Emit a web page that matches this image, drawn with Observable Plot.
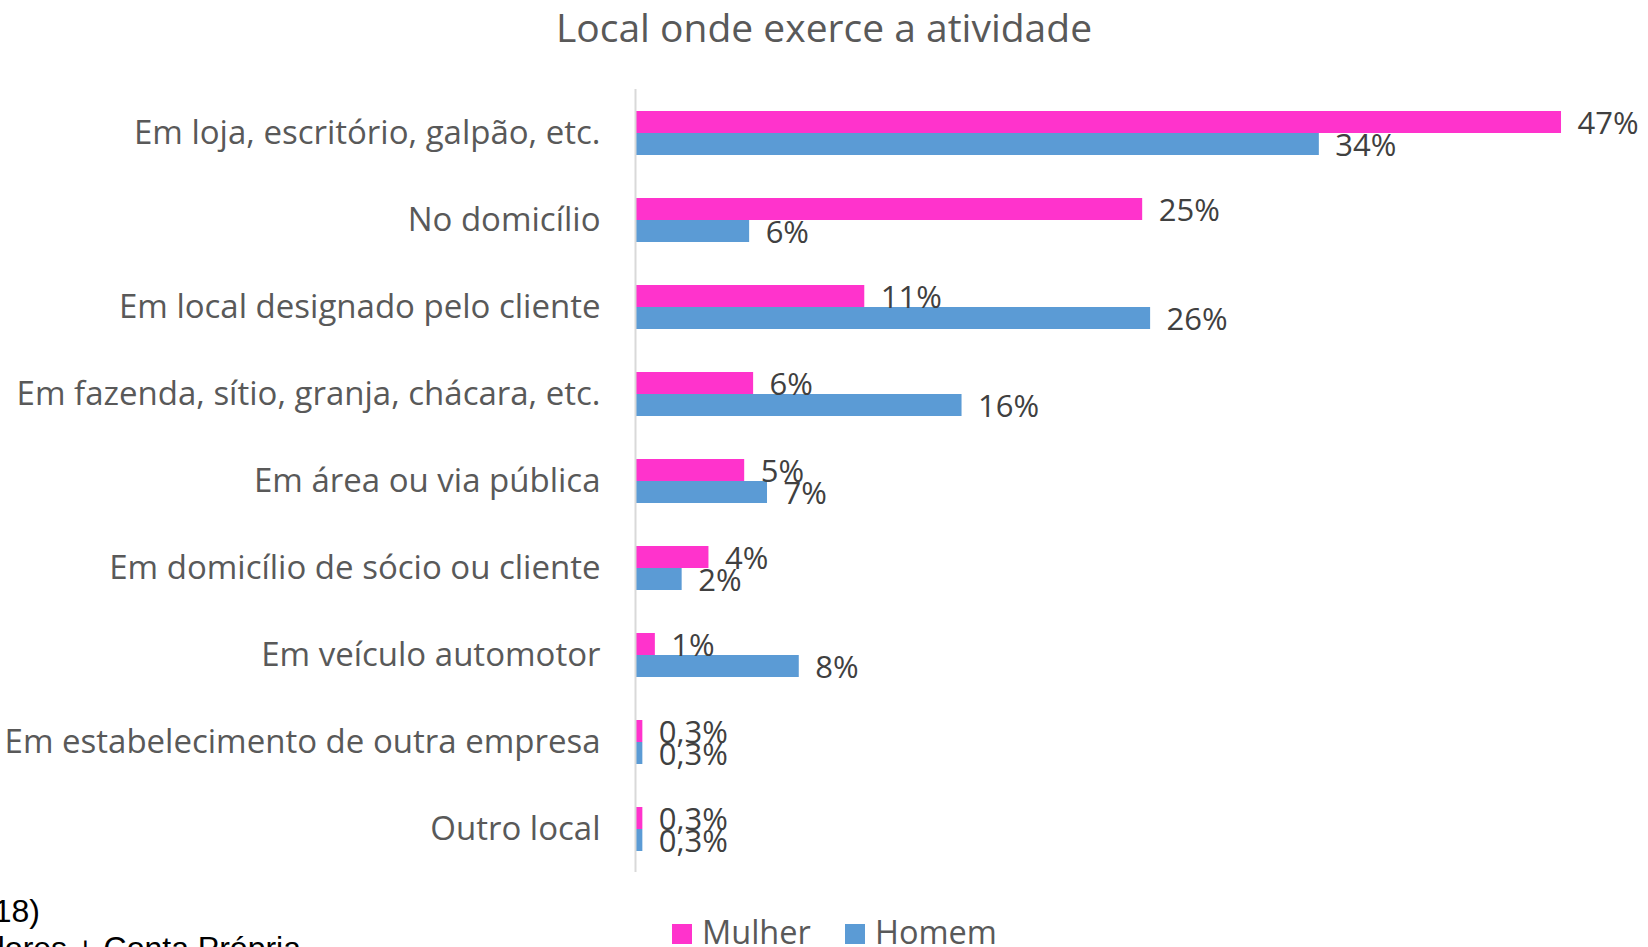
<!DOCTYPE html>
<html>
<head>
<meta charset="utf-8">
<script src="https://cdn.jsdelivr.net/npm/d3@7"></script>
<script src="https://cdn.jsdelivr.net/npm/@observablehq/plot@0.6"></script>
<style>
  html, body { margin: 0; padding: 0; background: #fff; }
  #wrap { position: relative; width: 1648px; height: 947px; overflow: hidden; font-family: "Open Sans", sans-serif; }
  #title { height: 70px; box-sizing: border-box; padding-top: 7px; line-height: 1; text-align: center; font-size: 39px; color: #595959; }
  #legend { position: relative; height: 63px; }
  .sw { position: absolute; width: 20px; height: 20px; top: 40px; }
  .lt { position: absolute; top: 32px; font-size: 32.5px; line-height: 1; color: #595959; }
  .note { position: absolute; font-family: "Liberation Sans", Arial, sans-serif; font-size: 32px; line-height: 1; color: #000; white-space: nowrap; }
</style>
</head>
<body>
<div id="wrap">
  <div id="title">Local onde exerce a atividade</div>
  <div id="chart"></div>
  <div id="legend"></div>
  <div class="note" id="n1" style="right:1608px; top:895px;">(2018)</div>
  <div class="note" id="n2" style="right:1347px; top:932px;">Empregadores + Conta Própria</div>
</div>
<script>
const categories = [
  "Em loja, escritório, galpão, etc.",
  "No domicílio",
  "Em local designado pelo cliente",
  "Em fazenda, sítio, granja, chácara, etc.",
  "Em área ou via pública",
  "Em domicílio de sócio ou cliente",
  "Em veículo automotor",
  "Em estabelecimento de outra empresa",
  "Outro local"
];
const series = ["Mulher", "Homem"];
const mulher = [46.6, 25.5, 11.5, 5.9, 5.45, 3.65, 0.95, 0.32, 0.32];
const homem  = [34.4, 5.7, 25.9, 16.4, 6.6, 2.3, 8.2, 0.32, 0.32];
const mulherLabels = ["47%", "25%", "11%", "6%", "5%", "4%", "1%", "0,3%", "0,3%"];
const homemLabels  = ["34%", "6%", "26%", "16%", "7%", "2%", "8%", "0,3%", "0,3%"];
const colors = ["#FF33CC", "#5B9BD5"];

const rows = [];
categories.forEach((c, i) => {
  rows.push({category: c, sex: "Mulher", value: mulher[i], label: mulherLabels[i]});
  rows.push({category: c, sex: "Homem", value: homem[i], label: homemLabels[i]});
});

const chart = Plot.plot({
  width: 1648,
  height: 814,
  marginTop: 17,
  marginBottom: 10,
  marginLeft: 636,
  marginRight: 19.5,
  style: {fontFamily: "Open Sans, sans-serif", background: "#fff"},
  x: {domain: [0, 50], axis: null},
  y: {domain: series, axis: null, paddingInner: 0, paddingOuter: 0.9},
  fy: {domain: categories, padding: 0, label: null, axis: null},
  color: {domain: series, range: colors},
  marks: [
    Plot.barX(rows, {x: "value", y: "sex", fy: "category", fill: "sex"}),
    Plot.ruleX([0], {stroke: "#d9d9d9", strokeWidth: 2, dx: -1}),
    Plot.text(rows, {x: "value", y: "sex", fy: "category", text: "label", dx: 16, dy: 2, textAnchor: "start", fontSize: 31, fill: "#404040"}),
    Plot.axisFy({anchor: "left", tickSize: 0, tickPadding: 36, fontSize: 33, color: "#595959", label: null})
  ]
});
document.getElementById("chart").appendChild(chart);

const legend = document.getElementById("legend");
const lx = [672, 845];
series.forEach((s, i) => {
  const sw = document.createElement("div");
  sw.className = "sw";
  sw.style.left = lx[i] + "px";
  sw.style.background = colors[i];
  legend.appendChild(sw);
  const t = document.createElement("div");
  t.className = "lt";
  t.style.left = (lx[i] + 30) + "px";
  t.textContent = s;
  legend.appendChild(t);
});
</script>
</body>
</html>
